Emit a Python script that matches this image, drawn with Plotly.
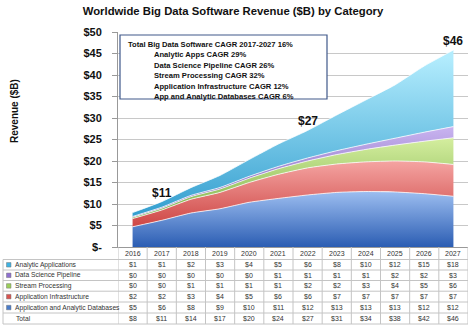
import plotly.graph_objects as go

# Worldwide big data software revenue, $B, by category
years = [2016, 2017, 2018, 2019, 2020, 2021, 2022, 2023, 2024, 2025, 2026, 2027]
app_databases = [4.7, 6.2, 7.9, 8.9, 10.4, 11.3, 12.1, 12.7, 12.9, 12.8, 12.4, 11.8]
app_infrastructure = [1.9, 2.4, 3.2, 3.8, 4.6, 5.6, 6.3, 6.6, 6.9, 7.2, 7.4, 7.4]
stream_processing = [0.3, 0.4, 0.6, 0.8, 1.0, 1.3, 1.6, 2.2, 2.9, 3.7, 4.8, 6.2]
data_science_pipeline = [0.2, 0.25, 0.3, 0.35, 0.45, 0.55, 0.7, 0.9, 1.2, 1.6, 2.1, 2.6]
analytic_applications = [0.9, 1.3, 1.8, 2.8, 3.9, 5.2, 6.4, 8.3, 10.3, 12.4, 15.4, 17.8]

series_names = ["Application and Analytic Databases", "Application Infrastructure",
                "Stream Processing", "Data Science Pipeline", "Analytic Applications"]
cagr_lines = ["Total Big Data Software CAGR 2017-2027 16%",
              "Analytic Apps CAGR 29%",
              "Data Science Pipeline CAGR 26%",
              "Stream Processing CAGR 32%",
              "Application Infrastructure CAGR 12%",
              "App and Analytic Databases CAGR 6%"]
callout_years = [2017, 2022, 2027]

series = [app_databases, app_infrastructure, stream_processing,
          data_science_pipeline, analytic_applications]
totals = [sum(v) for v in zip(*series)]

# (dark, light, gradient stop value, key colour)
styles = [
    ("#2b5db3", "#a6c6f5", 14, "#4a7cc9"),
    ("#c22a28", "#f7aaa8", 21, "#d9534f"),
    ("#5e9c2c", "#dcf3a6", 27, "#9bcf5a"),
    ("#5b3f9e", "#cdb8f3", 29, "#8e6fd0"),
    ("#1b8fc6", "#b2ecfd", 44, "#3fb3e3"),
]

FONT = "Liberation Sans, Arial, sans-serif"
W, H = 474, 333
L, R, T, B = 118, 468, 32, 247


def px_x(p):
    return (p - L) / (R - L)


def px_y(p):
    return (B - p) / (B - T)


fig = go.Figure()
cum = [0.0] * len(years)
for i, (name, vals) in enumerate(zip(series_names, series)):
    cum = [c + v for c, v in zip(cum, vals)]
    dark, light, stop, _ = styles[i]
    fig.add_trace(go.Scatter(
        x=years, y=cum, name=name, mode="lines",
        line=dict(color="rgba(255,255,255,0.75)", width=1, shape="spline", smoothing=0.5),
        fill="tozeroy" if i == 0 else "tonexty",
        fillgradient=dict(type="vertical", start=0, stop=stop,
                          colorscale=[[0, dark], [1, light]]),
        showlegend=False, hoverinfo="skip",
    ))

shapes = []
annotations = []

# callout totals
for yr in callout_years:
    k = years.index(yr)
    annotations.append(dict(x=yr, y=totals[k], xref="x", yref="y", yanchor="bottom",
                            xanchor="center", yshift=0, showarrow=False,
                            text=f"<b>${totals[k]:.0f}</b>",
                            font=dict(size=12, color="#111", family=FONT)))

# CAGR box
shapes.append(dict(type="rect", xref="paper", yref="paper", layer="above",
                   x0=px_x(120), x1=px_x(327), y0=px_y(99), y1=px_y(35),
                   line=dict(color="#40598a", width=1.2), fillcolor="white"))
for j, line in enumerate(cagr_lines):
    annotations.append(dict(xref="paper", yref="paper", x=px_x(126 if j == 0 else 152),
                            y=px_y(44 + j * 10.5), xanchor="left", yanchor="middle",
                            showarrow=False, text=f"<b>{line}</b>",
                            font=dict(size=7.6, color="#111", family=FONT)))

# data table below the plot
row_edges = [247, 259.5, 270, 280.5, 291.2, 302, 313, 324]
grid_col = "#c4c4c4"
for yy in row_edges[1:]:
    shapes.append(dict(type="line", xref="paper", yref="paper", x0=px_x(3), x1=1,
                       y0=px_y(yy), y1=px_y(yy), line=dict(color=grid_col, width=1)))
for k in range(len(years) + 1):
    xb = years[0] - 0.5 + k
    shapes.append(dict(type="line", xref="x", yref="paper", x0=xb, x1=xb,
                       y0=px_y(247), y1=px_y(324), line=dict(color=grid_col, width=1)))
shapes.append(dict(type="line", xref="paper", yref="paper", x0=px_x(3), x1=px_x(3),
                   y0=px_y(259.5), y1=px_y(324), line=dict(color=grid_col, width=1)))

tfont = dict(size=7, color="#333", family=FONT)
lfont = dict(size=6.7, color="#333", family=FONT)
for k, yr in enumerate(years):
    annotations.append(dict(x=yr, xref="x", yref="paper", y=px_y(253.5), showarrow=False,
                            xanchor="center", yanchor="middle", text=str(yr), font=tfont))

table_rows = list(range(len(series)))[::-1]
for r, si in enumerate(table_rows):
    yc = (row_edges[r + 1] + row_edges[r + 2]) / 2
    key = styles[si][3]
    shapes.append(dict(type="rect", xref="paper", yref="paper",
                       x0=px_x(6.5), x1=px_x(11), y0=px_y(yc + 2.3), y1=px_y(yc - 2.2),
                       line=dict(color="#777", width=0.5), fillcolor=key))
    annotations.append(dict(xref="paper", yref="paper", x=px_x(12.5), y=px_y(yc),
                            xanchor="left", yanchor="middle", showarrow=False,
                            text=series_names[si], font=lfont))
    for yr, v in zip(years, series[si]):
        annotations.append(dict(x=yr, xref="x", yref="paper", y=px_y(yc), showarrow=False,
                                xanchor="center", yanchor="middle",
                                text=f"${v:.0f}", font=tfont))
yc = (row_edges[-2] + row_edges[-1]) / 2
annotations.append(dict(xref="paper", yref="paper", x=px_x(14), y=px_y(yc),
                        xanchor="left", yanchor="middle", showarrow=False,
                        text="Total", font=lfont))
for yr, v in zip(years, totals):
    annotations.append(dict(x=yr, xref="x", yref="paper", y=px_y(yc), showarrow=False,
                            xanchor="center", yanchor="middle",
                            text=f"${v:.0f}", font=tfont))

# y-axis title
annotations.append(dict(xref="paper", yref="paper", x=px_x(14), y=px_y(111),
                        xanchor="center", yanchor="middle",
                        textangle=-90, showarrow=False, text="<b>Revenue ($B)</b>",
                        font=dict(size=10, color="#111", family=FONT)))

tickvals = list(range(0, 51, 5))
ticktext = ["<b>$-</b>"] + [f"<b>${v}</b>" for v in tickvals[1:]]

fig.update_layout(
    width=W, height=H,
    margin=dict(l=L, r=W - R, t=T, b=H - B, pad=0),
    paper_bgcolor="white", plot_bgcolor="white",
    title=dict(text="<b>Worldwide Big Data Software Revenue ($B) by Category</b>",
               x=233 / W, xanchor="center", y=1 - 11 / H, yanchor="middle",
               font=dict(size=11.3, color="#111", family=FONT)),
    xaxis=dict(range=[years[0] - 0.5, years[-1] + 0.5], showticklabels=False,
               showgrid=False, zeroline=False, showline=True, linecolor="#999",
               ticks=""),
    yaxis=dict(range=[0, 50], tickvals=tickvals, ticktext=ticktext,
               showgrid=True, gridcolor="#c8c8c8", gridwidth=1, zeroline=False,
               showline=True, linecolor="#999", ticks="outside", ticklen=5,
               tickcolor="#999", ticklabelstandoff=8,
               tickfont=dict(size=11, color="#111", family=FONT)),
    shapes=shapes, annotations=annotations,
)

fig.write_html("out.html")
